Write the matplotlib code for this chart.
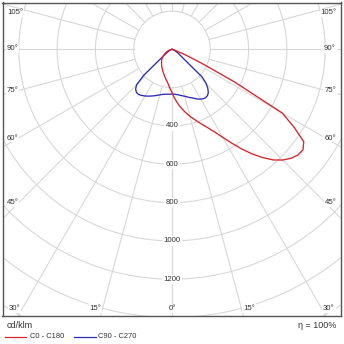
import numpy as np
import matplotlib
matplotlib.use("Agg")
import matplotlib.pyplot as plt
from matplotlib.lines import Line2D
from matplotlib.patches import Circle

# ---------------- data (cd/klm) ----------------
gamma = [0, 2.5, 5, 7.5, 10, 12.5, 15, 17.5, 20, 22.5, 25, 27.5, 30, 32.5, 35, 37.5,
         40, 42.5, 45, 47.5, 50, 52.5, 55, 57.5, 60, 62.5, 65, 67.5, 70, 72.5, 75,
         77.5, 80, 82.5, 85, 87.5, 90]

c0 = [225, 250, 274, 297, 319, 340, 361, 382, 404, 428, 455, 488, 530, 580, 635, 688,
      738, 783, 817, 842, 858, 862, 840, 755, 665, 368, 170, 80, 35, 22, 12,
      8, 5, 3, 2, 1, 0]
c180 = [225, 208, 190, 175, 165, 155, 147, 138, 131, 124, 117, 111, 106, 100, 95, 90,
        85, 80, 76, 70, 64, 58, 52, 47, 42, 37, 31, 26, 21, 16, 12,
        9, 6, 4, 2, 1, 0]
c90 = [233, 234, 236, 239, 243, 248, 253, 260, 267, 274, 283, 292, 300, 305, 307, 304,
       295, 277, 252, 215, 100, 65, 50, 40, 32, 25, 19, 14, 10, 7, 5,
       3, 2, 1, 1, 0, 0]
c270 = [233, 234, 235, 236, 238, 241, 246, 251, 257, 263, 269, 275, 281, 286, 291, 293,
        290, 281, 262, 200, 90, 55, 40, 32, 25, 19, 14, 10, 7, 5, 3,
        2, 1, 1, 0, 0, 0]

circle_values = [200, 400, 600, 800, 1000, 1200, 1400, 1600, 1800]
radial_labels = [400, 600, 800, 1000, 1200]
angle_step = 15
angle_labels = ["105°", "90°", "75°", "60°", "45°", "30°", "15°", "0°",
                "15°", "30°", "45°", "60°", "75°", "90°", "105°"]
series_names = ["C0 - C180", "C90 - C270"]
unit_label = "cd/klm"
eta_label = "η = 100%"

# ---------------- layout ----------------
W = H = 344
fig = plt.figure(figsize=(W / 100, H / 100), dpi=100)
plt.rcParams['font.family'] = ['Liberation Sans', 'DejaVu Sans']

L, R, T, B = 2.5, 340.5, 2.5, 316.3
cx, cy = 172.0, 49.4
scale = 0.1915  # px per cd/klm
ax = fig.add_axes([L / W, 1 - B / H, (R - L) / W, (B - T) / H])
ax.set_xlim((L - cx) / scale, (R - cx) / scale)
ax.set_ylim(-(B - cy) / scale, (cy - T) / scale)
ax.set_xticks([])
ax.set_yticks([])
for s in ax.spines.values():
    s.set_color('#555555')
    s.set_linewidth(1.0)

grid_c = '#d8d8d8'
# circles
for v in circle_values:
    ax.add_patch(Circle((0, 0), v, fill=False, ec=grid_c, lw=0.8, zorder=1))
# radial lines
for a in np.arange(0, 360, angle_step):
    t = np.deg2rad(a)
    r0, r1 = circle_values[0], 2500
    ax.plot([r0 * np.sin(t), r1 * np.sin(t)], [-r0 * np.cos(t), -r1 * np.cos(t)],
            color=grid_c, lw=0.8, zorder=1)

# curves
g = np.deg2rad(np.array(gamma))
def curve(right, left):
    right = np.array(right, float)
    left = np.array(left, float)
    xs = np.concatenate([-left[::-1] * np.sin(g[::-1]), right * np.sin(g)])
    ys = np.concatenate([-left[::-1] * np.cos(g[::-1]), -right * np.cos(g)])
    return xs, ys

red = '#d8232a'
blue = '#2b2bb5'
x1, y1 = curve(c0, c180)
ax.plot(x1, y1, color=red, lw=0.95, zorder=4, solid_joinstyle='round')
x2, y2 = curve(c90, c270)
ax.plot(x2, y2, color=blue, lw=0.95, zorder=3, solid_joinstyle='round')

txt_c = '#333333'
fs = 5.6
# radial labels
for v in radial_labels:
    ax.text(0, -v, str(v), ha='center', va='center', fontsize=fs, color=txt_c, zorder=5,
            bbox=dict(boxstyle='square,pad=0.15', fc='white', ec='none'))

# angle labels positions (px)
angle_pos = [(15, 13), (12.5, 49), (12.5, 90), (12.5, 138), (12.5, 203),
             (14.5, 308.5), (95.5, 308.5), (172, 308.5), (249, 308.5), (329, 308.5),
             (330.5, 203), (330, 138), (330, 90), (330, 49), (328.5, 13)]
for lab, (px, py) in zip(angle_labels, angle_pos):
    ax.text((px - L) / (R - L), (B - py) / (B - T), lab, transform=ax.transAxes,
            ha='center', va='center', fontsize=fs, color=txt_c, zorder=5,
            bbox=dict(boxstyle='square,pad=0.1', fc='white', ec='none'))

# legend area
fig.text(7 / W, 1 - 326 / H, unit_label, ha='left', va='center', fontsize=6.5, color=txt_c)
fig.text(336 / W, 1 - 326 / H, eta_label, ha='right', va='center', fontsize=6.5, color=txt_c)
ly = 1 - 336.5 / H
fig.add_artist(Line2D([5 / W, 26 / W], [ly, ly], color=red, lw=0.9))
fig.text(29.5 / W, ly, series_names[0], ha='left', va='center', fontsize=5.4, color=txt_c)
fig.add_artist(Line2D([74 / W, 96 / W], [ly, ly], color=blue, lw=0.9))
fig.text(97.5 / W, ly, series_names[1], ha='left', va='center', fontsize=5.4, color=txt_c)

fig.savefig('out.png', dpi=100, facecolor='white')
